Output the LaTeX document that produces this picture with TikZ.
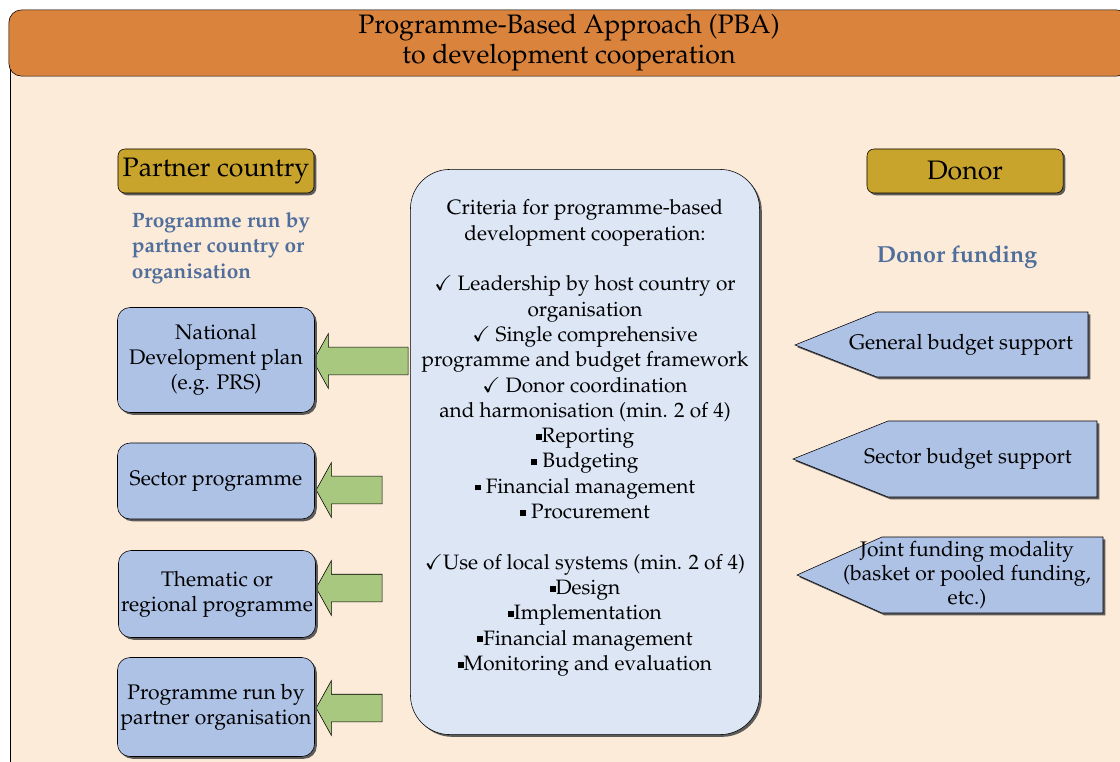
\documentclass[tikz,border=0pt]{standalone}
\usepackage[T1]{fontenc}
\usepackage{mathpazo}
\usepackage{amssymb}
\usetikzlibrary{positioning}
\usetikzlibrary{shapes.arrows,shadows}

\definecolor{peach}{RGB}{253,235,218}
\definecolor{pbaorange}{RGB}{217,131,61}
\definecolor{gold}{RGB}{201,164,44}
\definecolor{progblue}{RGB}{174,194,230}
\definecolor{critblue}{RGB}{221,230,245}
\definecolor{leafgreen}{RGB}{168,200,128}
\definecolor{headblue}{RGB}{79,110,155}

\newcommand{\chk}{$\checkmark$}
\newcommand{\sqb}{\rule[0.3ex]{0.28em}{0.28em}}

\begin{document}
\begin{tikzpicture}[x=0.025cm, y=-0.025cm,
  shade/.style={drop shadow={shadow xshift=1.6pt, shadow yshift=-1.6pt, fill=black!70, opacity=0.9}},
  headbox/.style={draw, thin, fill=gold, rounded corners=5pt, shade,
    minimum width=4.9cm, minimum height=1.1cm,
    font=\fontsize{19}{22}\selectfont},
  bluehead/.style={text=headblue, font=\bfseries\fontsize{14.8}{18.2}\selectfont},
  progbox/.style={draw, thin, fill=progblue, rounded corners=9pt, shade,
    minimum width=4.925cm, align=center, inner sep=1pt,
    font=\fontsize{15}{17.8}\selectfont},
  critbox/.style={draw, thin, fill=critblue, rounded corners=28pt, shade,
    minimum width=8.725cm, minimum height=14.125cm, align=center,
    font=\fontsize{14.8}{18}\selectfont},
  greenarr/.style={single arrow, draw, thin, fill=leafgreen, shape border rotate=180,
    single arrow tip angle=122, single arrow head extend=0.3375cm, inner sep=0.3375cm},
  fundshape/.style={draw, thin, fill=progblue, shade},
  fundtext/.style={align=center, inner sep=1pt, font=\fontsize{15}{17}\selectfont}
]
\clip (0,0) rectangle (1120,762);

% page and title bar
\fill[white] (0,0) rectangle (1120,762);
\fill[peach] (10,40) rectangle (1140,780);
\draw (10,40) -- (10,780);
\node[draw, fill=pbaorange, rounded corners=9pt, minimum width=28cm, minimum height=1.625cm,
  align=center, font=\fontsize{19}{21.3}\selectfont] (title) at (569,43)
  {Programme-Based Approach (PBA)\\to development cooperation};

% the two sides
\node[headbox] (partner) at (216,171) {Partner country};
\node[headbox] (donor) at (965,171) {Donor};
\node[bluehead, align=left, anchor=west] (runby) at (127,248) {Programme run by\\partner country or\\organisation};
\node[bluehead, font=\bfseries\fontsize{16.5}{20}\selectfont] (funding) at (957,257) {Donor funding};

% green arrows sit under the criteria box
\node[greenarr, minimum height=2.375cm, minimum width=1.3cm] (arr1) at (364.5,361) {};
\node[greenarr, minimum height=1.65cm, minimum width=1.35cm] (arr2) at (353,490) {};
\node[greenarr, minimum height=1.65cm, minimum width=1.35cm] (arr3) at (353,588) {};
\node[greenarr, minimum height=1.65cm, minimum width=1.35cm] (arr4) at (353,708) {};

% programme types
\node[progbox, minimum height=2.625cm] (natplan) at (216,360) {National\\Development plan\\(e.g. PRS)};
\node[progbox, minimum height=1.9cm] (sector) at (216,481) {Sector programme};
\node[progbox, minimum height=2.175cm] (thematic) at (217,594) {Thematic or\\regional programme};
\node[progbox, minimum height=2.475cm] (partorg) at (216,707) {Programme run by\\partner organisation};

% criteria
\node[critbox] (crit) at (585,452) {Criteria for programme-based\\
  development cooperation:\\[18pt]
  \chk{} Leadership by host country or\\
  organisation\\
  \chk{} Single comprehensive\\
  programme and budget framework\\
  \chk{} Donor coordination\\
  and harmonisation (min. 2 of 4)\\
  \sqb Reporting\\
  \sqb{} Budgeting\\
  \sqb{} Financial management\\
  \sqb{} Procurement\\[18pt]
  \chk Use of local systems (min. 2 of 4)\\
  \sqb Design\\
  \sqb Implementation\\
  \sqb Financial management\\
  \sqb Monitoring and evaluation\\[6pt]};

% donor funding forms, pointing at the criteria
\draw[fundshape] (795,345) -- (877,312) -- (1088,312) -- (1088,377) -- (877,377) -- cycle;
\node[fundtext] (general) at (961,345) {General budget support};
\draw[fundshape] (793,459) -- (888,421) -- (1097,421) -- (1097,497) -- (888,497) -- cycle;
\node[fundtext] (sectsup) at (968,459) {Sector budget support};
\draw[fundshape] (797,575) -- (882,537) -- (1103,537) -- (1103,613) -- (882,613) -- cycle;
\node[fundtext] (joint) at (967,575) {Joint funding modality\\(basket or pooled funding,\\etc.)};
\end{tikzpicture}
\end{document}
